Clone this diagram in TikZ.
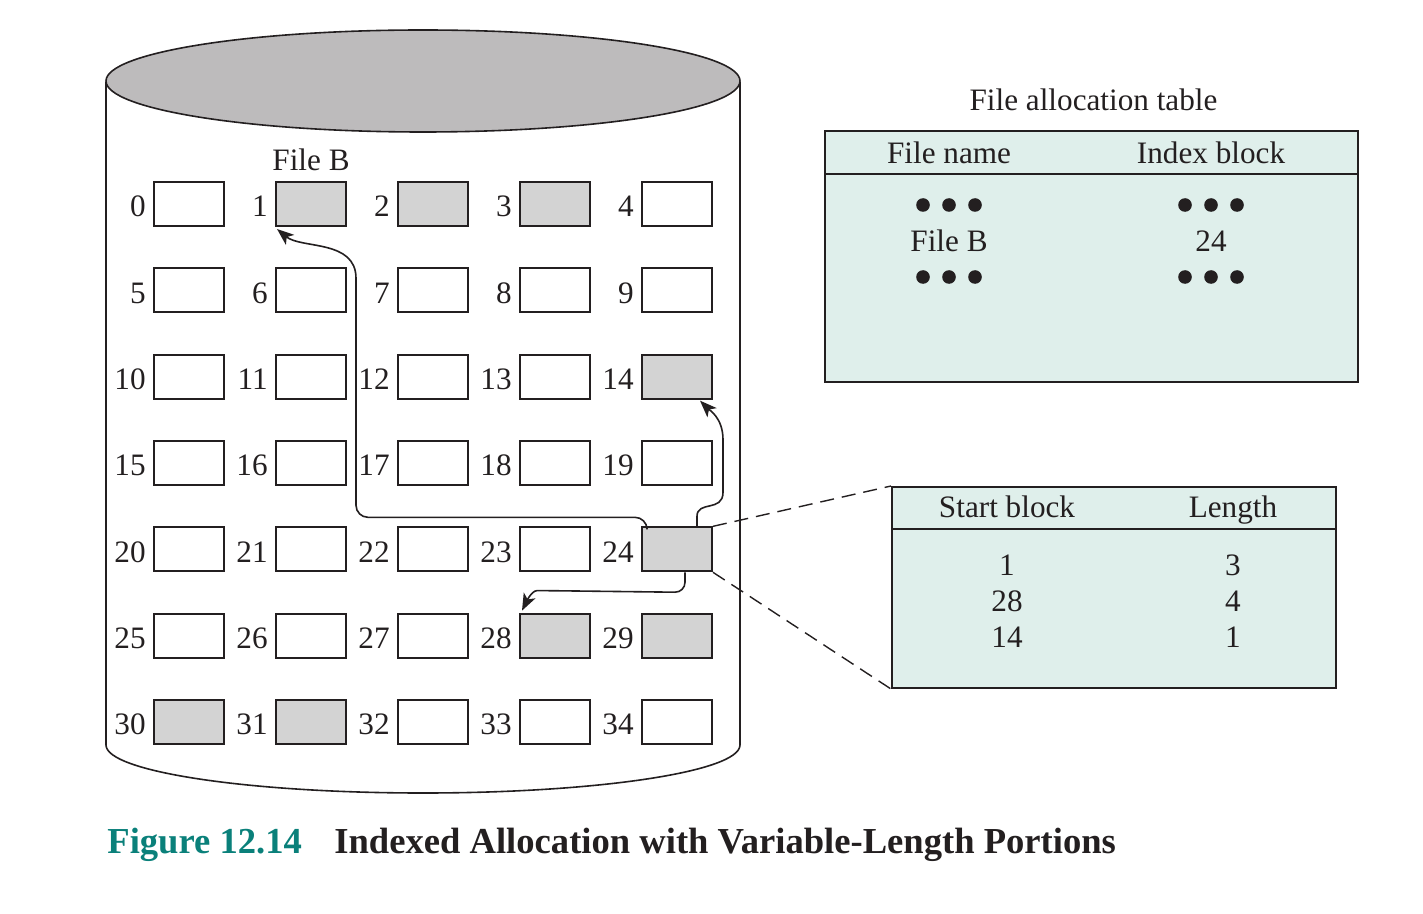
\documentclass[tikz,border=0pt]{standalone}
\usepackage{fontspec}
\setmainfont{Liberation Serif}
\usetikzlibrary{calc,arrows.meta}

\definecolor{usedgray}{RGB}{211,211,211}
\definecolor{topgray}{RGB}{189,187,188}
\definecolor{tblfill}{RGB}{223,239,235}
\definecolor{figteal}{RGB}{10,128,122}
\definecolor{ink}{RGB}{35,31,32}

\tikzset{
  blk/.style={draw=ink, line width=1pt, minimum width=35pt, minimum height=22pt, inner sep=0pt},
  txt/.style={inner sep=0pt, text=ink, font=\fontsize{15.6}{18}\selectfont},
  tbl/.style={draw=ink, line width=1pt, fill=tblfill, inner sep=0pt},
  flow/.style={draw=ink, line width=0.8pt, -{Stealth[length=8.5pt, width=6.5pt, inset=2.2pt]}},
  zoomline/.style={draw=ink, line width=0.7pt, dash pattern=on 7pt off 4pt}
}

\begin{document}
\begin{tikzpicture}[x=0.5pt, y=-0.5pt]
    \useasboundingbox (0,0) rectangle (1423,914);

    % disk
    \draw[ink, line width=0.8pt] (106,82) -- (106,745) arc[start angle=180, end angle=0, x radius=317, y radius=48] -- (740,82);
    \filldraw[draw=ink, fill=topgray, line width=0.8pt] (423,81) ellipse [x radius=317, y radius=51];

    % blocks
    \foreach \n in {0,...,34} {
        \pgfmathtruncatemacro\row{\n/5}
        \pgfmathtruncatemacro\col{mod(\n,5)}
        \node[blk] (b\n) at (189+122*\col, 204+86.33*\row) {};
        \node[txt, anchor=base east] at ($(b\n.west)+(-7,13)$) {\n};
    }
    \foreach \n in {1,2,3,14,24,28,29,30,31}
        \node[blk, fill=usedgray] at (b\n) {};

    \node[txt, anchor=base] (fileB) at ($(b1.north)+(0,-10)$) {File B};

    % index block pointers
    \draw[flow, rounded corners=6pt] ($(b24.north west)+(6,0)$) -- ($(b24.north west)+(6,-9)$) -- ($(b21.north east)+(9,-9)$) -- ($(b6.east)+(9,0)$)
        .. controls ($(b6.north east)+(9,-28)$) and ($(b1.south west)+(26,22)$) .. ($(b1.south west)+(2,2)$);
    \draw[flow] ($(b24.north)+(20,0)$) -- ($(b24.north)+(20,-10)$)
        .. controls ($(b24.north)+(20,-26)$) and ($(b24.north east)+(10,-14)$) .. ($(b24.north east)+(10,-34)$)
        -- ($(b14.south east)+(10,40)$)
        .. controls ($(b14.south east)+(10,18)$) and ($(b14.south)+(32,10)$) .. ($(b14.south)+(23,1)$);
    \draw[flow, rounded corners=5pt] ($(b24.south)+(8,0)$) -- ($(b24.south)+(8,20)$) -- ($(b28.north west)+(28,-22)$)
        .. controls ($(b28.north west)+(12,-22)$) and ($(b28.north west)+(6,-8)$) .. ($(b28.north west)+(3,-2)$);

    % file allocation table
    \node[tbl, minimum width=266.5pt, minimum height=125.5pt] (fat) at (1091.5,256.5) {};
    \draw[ink, line width=1pt] ($(fat.north west)+(0,44)$) -- ($(fat.north east)+(0,44)$);
    \node[txt, anchor=base] (fattitle) at ($(fat.north)+(2,-19)$) {File allocation table};
    \node[txt, anchor=base] (fname) at ($(fat.north west)+(125,34)$) {File name};
    \node[txt, anchor=base] (iblock) at ($(fat.north east)+(-148,34)$) {Index block};
    \foreach \dy in {75,147}
        \foreach \dx in {-26,0,26} {
            \fill[ink] ($(fat.north west)+(125+\dx,\dy)$) circle (3.4pt);
            \fill[ink] ($(fat.north east)+(-148+\dx,\dy)$) circle (3.4pt);
        }
    \node[txt, anchor=base] (fatfile) at ($(fat.north west)+(125,122)$) {File B};
    \node[txt, anchor=base] (fatidx) at ($(fat.north east)+(-148,122)$) {24};

    % index block contents
    \node[tbl, minimum width=222pt, minimum height=100.5pt] (st) at (1114,587.5) {};
    \draw[ink, line width=1pt] ($(st.north west)+(0,43)$) -- ($(st.north east)+(0,43)$);
    \node[txt, anchor=base] (sthead) at ($(st.north west)+(116,31)$) {Start block};
    \node[txt, anchor=base] (lenhead) at ($(st.north east)+(-104,31)$) {Length};
    \node[txt, anchor=base] at ($(st.north west)+(116,89.5)$) {1};
    \node[txt, anchor=base] at ($(st.north west)+(116,125.5)$) {28};
    \node[txt, anchor=base] at ($(st.north west)+(116,161.5)$) {14};
    \node[txt, anchor=base] at ($(st.north east)+(-104,89.5)$) {3};
    \node[txt, anchor=base] at ($(st.north east)+(-104,125.5)$) {4};
    \node[txt, anchor=base] at ($(st.north east)+(-104,161.5)$) {1};

    \draw[zoomline] (b24.north east) -- (st.north west);
    \draw[zoomline] (b24.south east) -- (st.south west);

    % caption
    \node[inner sep=0pt, anchor=base west, text=figteal, font=\fontsize{18.3}{22}\selectfont\bfseries] (fignum) at (107,853) {Figure 12.14};
    \node[inner sep=0pt, anchor=base west, text=ink, font=\fontsize{18.3}{22}\selectfont\bfseries] (figtitle) at (334,853) {Indexed Allocation with Variable-Length Portions};
\end{tikzpicture}
\end{document}
